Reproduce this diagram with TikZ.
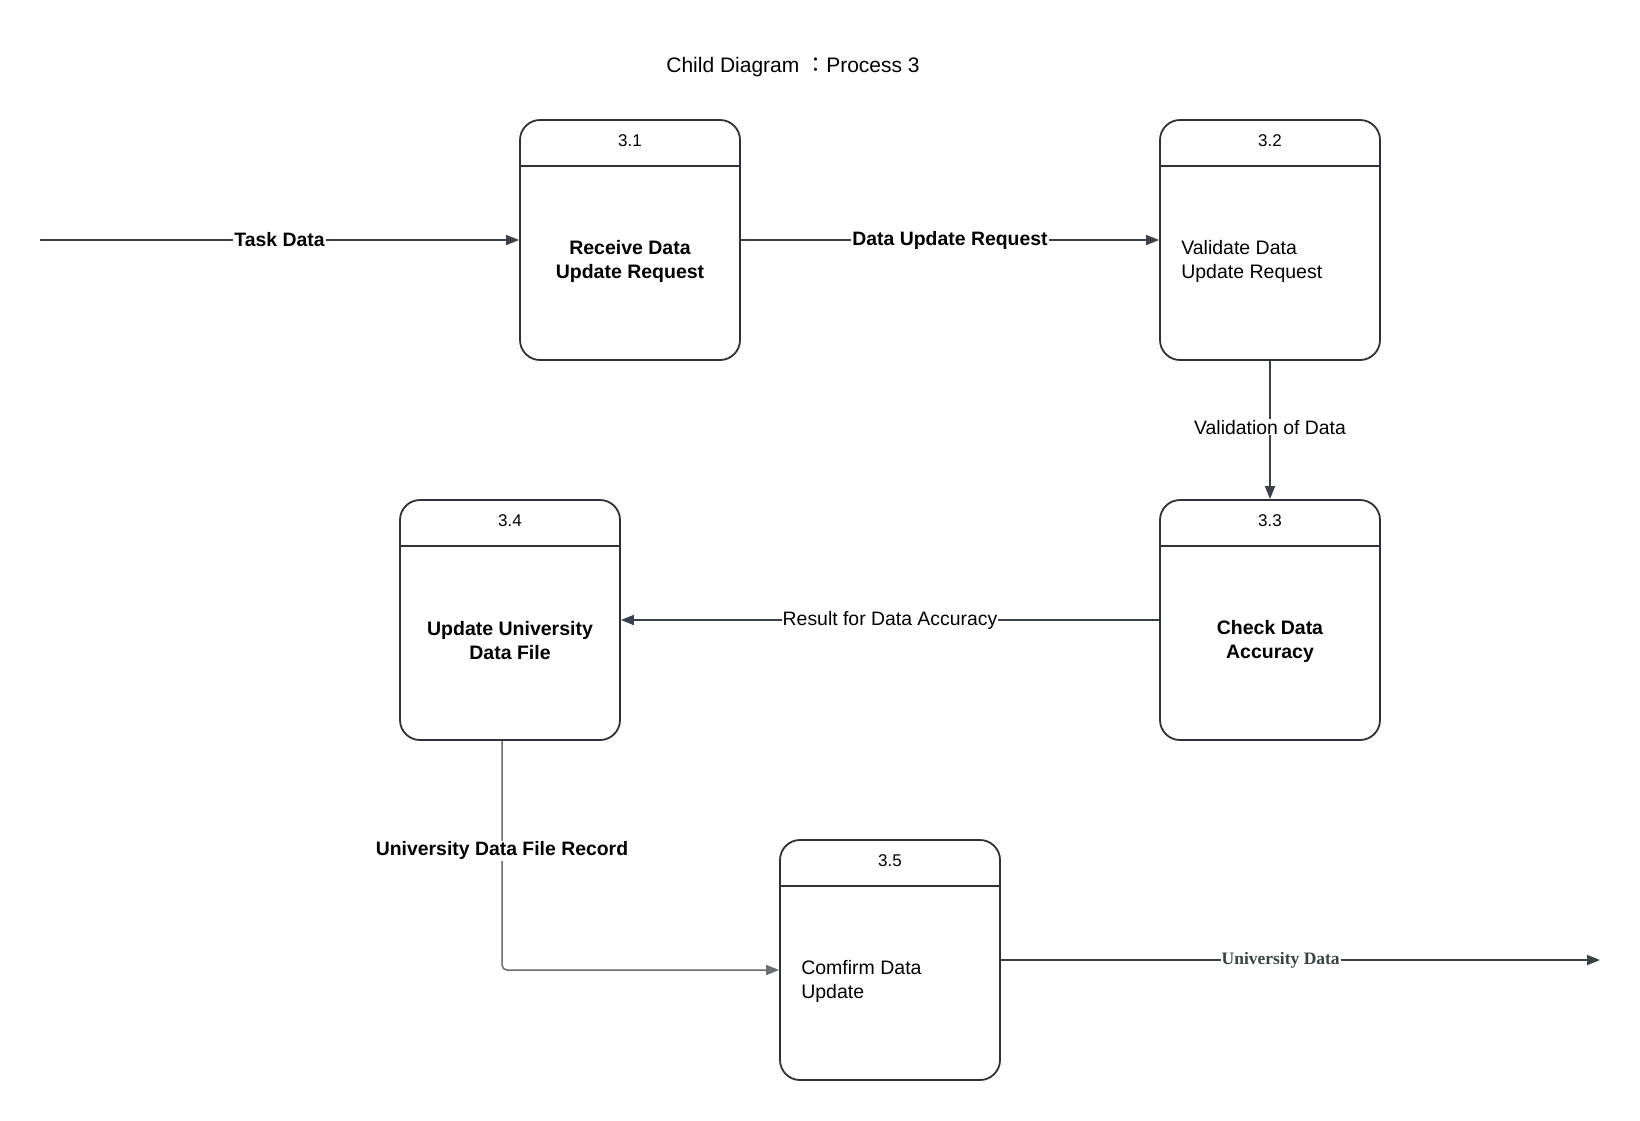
\documentclass[tikz,border=0pt]{standalone}
\usepackage{fontspec}
\setmainfont{Liberation Sans}
\newfontfamily\cjk{Noto Sans CJK TC}
\newfontfamily\serifb{Liberation Serif}
\usetikzlibrary{arrows.meta}
\definecolor{linec}{HTML}{3A414A}
\definecolor{boxc}{HTML}{2E3238}
\definecolor{lightc}{HTML}{6A6D73}
\begin{document}
\begin{tikzpicture}[x=1pt,y=-1pt,
  proc/.style={draw=boxc, line width=1.8pt, rounded corners=20pt, minimum width=220pt, minimum height=240pt, inner sep=0pt},
  hline/.style={draw=boxc, line width=1.8pt},
  num/.style={font=\fontsize{17}{20}\selectfont},
  bodyb/.style={font=\fontsize{19.5}{24}\selectfont\bfseries, align=center, inner sep=0pt},
  bodyn/.style={font=\fontsize{19.5}{24}\selectfont, align=left, anchor=west, inner sep=0pt},
  flow/.style={draw=linec, line width=1.5pt, -{Triangle[length=13pt,width=10pt]}},
  lab/.style={fill=white, inner sep=1pt, font=\fontsize{19.4}{22}\selectfont},
]
\useasboundingbox[fill=white] (0,0) rectangle (1640,1120);

\node[font=\fontsize{21}{25}\selectfont] (title) at (793,67) {Child Diagram {\cjk ：}Process 3};

\node[proc] (b1) at (630,240) {};
\node[proc] (b2) at (1270,240) {};
\node[proc] (b3) at (1270,620) {};
\node[proc] (b4) at (510,620) {};
\node[proc] (b5) at (890,960) {};

\foreach \b in {b1,b2,b3,b4,b5}{
  \draw[hline] ([yshift=-47pt]\b.north west) -- ([yshift=-47pt]\b.north east);
}

\node[num] (n1) at ([yshift=-22pt]b1.north) {3.1};
\node[num] (n2) at ([yshift=-22pt]b2.north) {3.2};
\node[num] (n3) at ([yshift=-22pt]b3.north) {3.3};
\node[num] (n4) at ([yshift=-22pt]b4.north) {3.4};
\node[num] (n5) at ([yshift=-22pt]b5.north) {3.5};

\node[bodyb] (t1) at ([yshift=-21pt]b1.center) {Receive Data\\Update Request};
\node[bodyn] (t2) at ([xshift=22pt,yshift=-21pt]b2.west) {Validate Data\\Update Request};
\node[bodyb] (t3) at ([yshift=-21pt]b3.center) {Check Data\\Accuracy};
\node[bodyb] (t4) at ([yshift=-21pt]b4.center) {Update University\\Data File};
\node[bodyn] (t5) at ([xshift=22pt,yshift=-21pt]b5.west) {Comfirm Data\\Update};

\coordinate (tdstart) at (40,240);
\coordinate (udend) at (1600,960);

\draw[flow] (tdstart) -- (b1.west) node[lab, midway] {\bfseries Task Data};
\draw[flow] (b1.east) -- (b2.west) node[lab, midway] {\bfseries Data Update Request};
\draw[flow] (b2.south) -- (b3.north) node[lab, pos=0.48] {Validation of Data};
\draw[flow] (b3.west) -- (b4.east) node[lab, midway] {Result for Data Accuracy};
\draw[flow, draw=lightc, rounded corners=5pt] ([xshift=-8pt]b4.south) |- ([yshift=-10pt]b5.west) node[lab, pos=0.24] {\bfseries University Data File Record};
\draw[flow] (b5.east) -- (udend) node[lab, pos=0.467, text=linec, font=\serifb\bfseries\fontsize{17.5}{20}\selectfont] {University Data};
\end{tikzpicture}
\end{document}
